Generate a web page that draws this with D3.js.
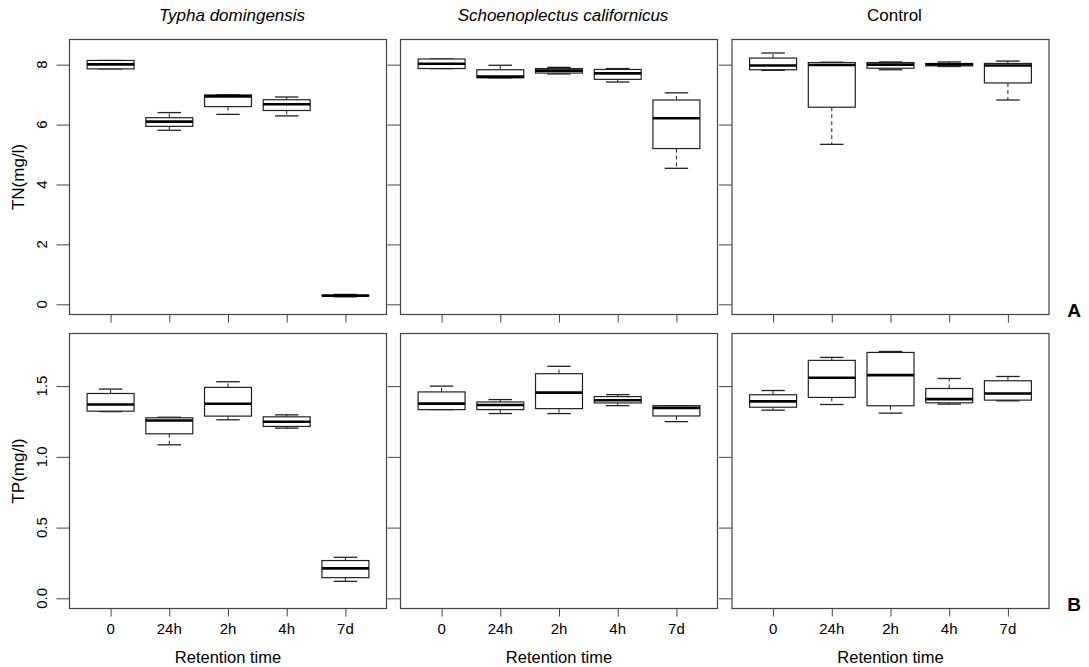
<!DOCTYPE html>
<html><head><meta charset="utf-8">
<script src="https://cdn.jsdelivr.net/npm/d3@7"></script>
<style>body{margin:0;background:#fff} text{font-family:"Liberation Sans",Arial,sans-serif;fill:#000}</style>
</head><body><svg id="c" width="1089" height="667"></svg>
<script>
// ---- data ----
const categories = ["0", "24h", "2h", "4h", "7d"];
const species = ["Typha domingensis", "Schoenoplectus californicus", "Control"];
const rowLabels = ["TN(mg/l)", "TP(mg/l)"];
const rowTags = ["A", "B"];
const tnTicks = [0, 2, 4, 6, 8];
const tpTicks = [0, 0.5, 1.0, 1.5];
const tnLimits = [0, 8.5];
const tpLimits = [0, 1.8];
// five-number summaries: [min, q1, median, q3, max]
const typhaTN = [[7.86,7.86,8.01,8.14,8.14],[5.81,5.94,6.10,6.23,6.40],[6.34,6.60,6.94,6.99,7.00],[6.29,6.47,6.68,6.83,6.92],[0.25,0.285,0.29,0.295,0.33]];
const schoenoTN = [[7.87,7.87,8.03,8.19,8.19],[7.56,7.56,7.60,7.83,7.98],[7.69,7.72,7.80,7.87,7.91],[7.42,7.51,7.71,7.84,7.87],[4.54,5.20,6.21,6.82,7.06]];
const controlTN = [[7.81,7.83,7.97,8.22,8.39],[5.34,6.58,7.99,8.07,8.08],[7.83,7.88,8.00,8.07,8.09],[7.94,7.96,8.01,8.04,8.09],[6.82,7.39,7.97,8.04,8.12]];
const typhaTP = [[1.32,1.323,1.37,1.448,1.479],[1.085,1.163,1.257,1.276,1.28],[1.262,1.288,1.375,1.491,1.531],[1.203,1.215,1.248,1.283,1.297],[0.12,0.146,0.212,0.267,0.29]];
const schoenoTP = [[1.334,1.334,1.376,1.459,1.50],[1.306,1.334,1.367,1.388,1.405],[1.306,1.341,1.454,1.588,1.64],[1.362,1.381,1.40,1.426,1.44],[1.249,1.289,1.346,1.362,1.362]];
const controlTP = [[1.33,1.351,1.392,1.439,1.469],[1.37,1.42,1.559,1.682,1.703],[1.309,1.361,1.578,1.738,1.745],[1.373,1.382,1.408,1.483,1.554],[1.396,1.401,1.448,1.538,1.568]];

const panels = [
  [typhaTN, schoenoTN, controlTN],
  [typhaTP, schoenoTP, controlTP]
];
const rowTicks = [tnTicks, tpTicks];
const rowLimits = [tnLimits, tpLimits];
const rowFormat = [d3.format("d"), d3.format(".1f")];

// ---- layout ----
const colLeft = [69.5, 400.5, 732];
const panelW = 317;
const rowTop = [39.5, 333.5];
const panelH = 275;

const svg = d3.select("#c");

function padded(lim) { const r = lim[1] - lim[0]; return [lim[0] - 0.04 * r, lim[1] + 0.04 * r]; }

rowTop.forEach((top, ri) => {
  const y = d3.scaleLinear().domain(padded(rowLimits[ri])).range([top + panelH, top]);
  colLeft.forEach((left, ci) => {
    const x = d3.scaleLinear().domain([0.3, 5.7]).range([left, left + panelW]);
    const g = svg.append("g");
    const data = panels[ri][ci];
    const bw = (x(1.4) - x(1)); // half of box width (0.8)
    const sw = bw / 2;          // half staple width

    // y axis
    const ya = d3.axisLeft(y).tickValues(rowTicks[ri]).tickSize(13).tickFormat("");
    const yg = g.append("g").attr("transform", `translate(${left},0)`).call(ya);
    yg.select(".domain").remove();
    yg.selectAll("line").attr("stroke", "#444");
    // x axis
    const xa = d3.axisBottom(x).tickValues([1,2,3,4,5]).tickSize(8).tickFormat("");
    const xg = g.append("g").attr("transform", `translate(0,${top + panelH})`).call(xa);
    xg.select(".domain").remove();
    xg.selectAll("line").attr("stroke", "#444");

    if (ci === 0) {
      rowTicks[ri].forEach(t => {
        g.append("text").attr("transform", `translate(47,${y(t)}) rotate(-90)`)
          .attr("text-anchor", "middle").attr("font-size", 15).text(rowFormat[ri](t));
      });
      g.append("text").attr("transform", `translate(24,${top + panelH / 2}) rotate(-90)`)
        .attr("text-anchor", "middle").attr("font-size", 17).text(rowLabels[ri]);
    }
    if (ri === 1) {
      categories.forEach((c, i) => {
        g.append("text").attr("x", x(i + 1)).attr("y", 633.5).attr("text-anchor", "middle")
          .attr("font-size", 15).text(c);
      });
      g.append("text").attr("x", left + panelW / 2).attr("y", 662.5).attr("text-anchor", "middle")
        .attr("font-size", 16.5).text("Retention time");
    }
    if (ri === 0) {
      g.append("text").attr("x", left + panelW / 2 + 4).attr("y", 21).attr("text-anchor", "middle")
        .attr("font-size", 17).attr("font-style", ci < 2 ? "italic" : "normal").text(species[ci]);
    }

    // boxes
    data.forEach((d, i) => {
      const cx = x(i + 1);
      const [mn, q1, md, q3, mx] = d;
      const b = g.append("g");
      b.append("line").attr("x1", cx).attr("x2", cx).attr("y1", y(q3)).attr("y2", y(mx))
        .attr("stroke", "#222").attr("stroke-dasharray", "4,3");
      b.append("line").attr("x1", cx).attr("x2", cx).attr("y1", y(q1)).attr("y2", y(mn))
        .attr("stroke", "#222").attr("stroke-dasharray", "4,3");
      [mn, mx].forEach(v => b.append("line").attr("x1", cx - sw).attr("x2", cx + sw)
        .attr("y1", y(v)).attr("y2", y(v)).attr("stroke", "#222").attr("stroke-width", 1.3));
      b.append("rect").attr("x", cx - bw).attr("width", 2 * bw)
        .attr("y", y(q3)).attr("height", Math.max(0.01, y(q1) - y(q3)))
        .attr("fill", "#fff").attr("stroke", "#222").attr("stroke-width", 1.2);
      b.append("line").attr("x1", cx - bw).attr("x2", cx + bw).attr("y1", y(md)).attr("y2", y(md))
        .attr("stroke", "#000").attr("stroke-width", 2.6);
    });

    g.append("rect").attr("x", left).attr("y", top).attr("width", panelW).attr("height", panelH)
      .attr("fill", "none").attr("stroke", "#444").attr("stroke-width", 1.2);
  });
  svg.append("text").attr("x", 1074).attr("y", top + panelH + 2).attr("text-anchor", "middle")
    .attr("font-size", 19).attr("font-weight", "bold").text(rowTags[ri]);
});
</script></body></html>
